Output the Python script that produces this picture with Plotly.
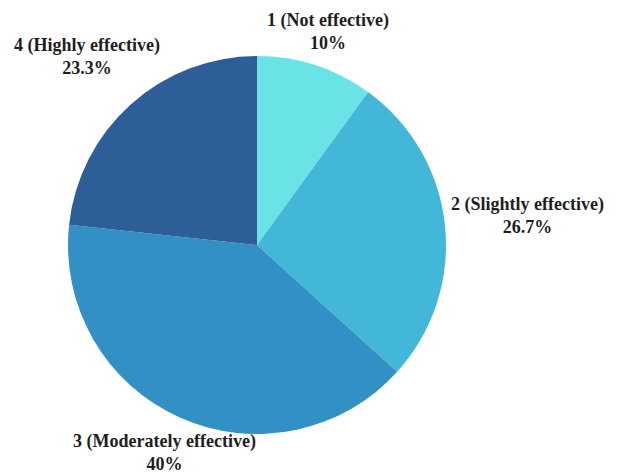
import plotly.graph_objects as go

categories = ["1 (Not effective)", "2 (Slightly effective)", "3 (Moderately effective)", "4 (Highly effective)"]
values = [10, 26.7, 40, 23.3]
pct_labels = ["10%", "26.7%", "40%", "23.3%"]
colors = ["#6ae3e7", "#43b7d7", "#3390c4", "#2e5e97"]

W, H = 617, 474
cx, cy, r = 257, 245, 189

fig = go.Figure(go.Pie(
    labels=categories,
    values=values,
    sort=False,
    direction="clockwise",
    rotation=0,
    textinfo="none",
    hoverinfo="label+percent",
    marker=dict(colors=colors, line=dict(width=0)),
    domain=dict(x=[(cx - r) / W, (cx + r) / W], y=[(H - cy - r) / H, (H - cy + r) / H]),
    showlegend=False,
))

# label anchor positions (pixel centers)
label_pos = [(328, 31.5), (527.5, 215.5), (164, 452), (87, 56.5)]
for cat, pct, (px, py) in zip(categories, pct_labels, label_pos):
    fig.add_annotation(
        x=px / W, y=1 - py / H, xref="paper", yref="paper",
        text=f"<b>{cat}</b><br><b>{pct}</b>",
        showarrow=False, xanchor="center", yanchor="middle", align="center",
        font=dict(family="Liberation Serif", size=18, color="#1e1e1e"),
    )

fig.update_layout(
    width=W, height=H,
    margin=dict(l=0, r=0, t=0, b=0),
    paper_bgcolor="white",
    plot_bgcolor="white",
    font=dict(family="Liberation Serif"),
)

fig.write_html("out.html")
